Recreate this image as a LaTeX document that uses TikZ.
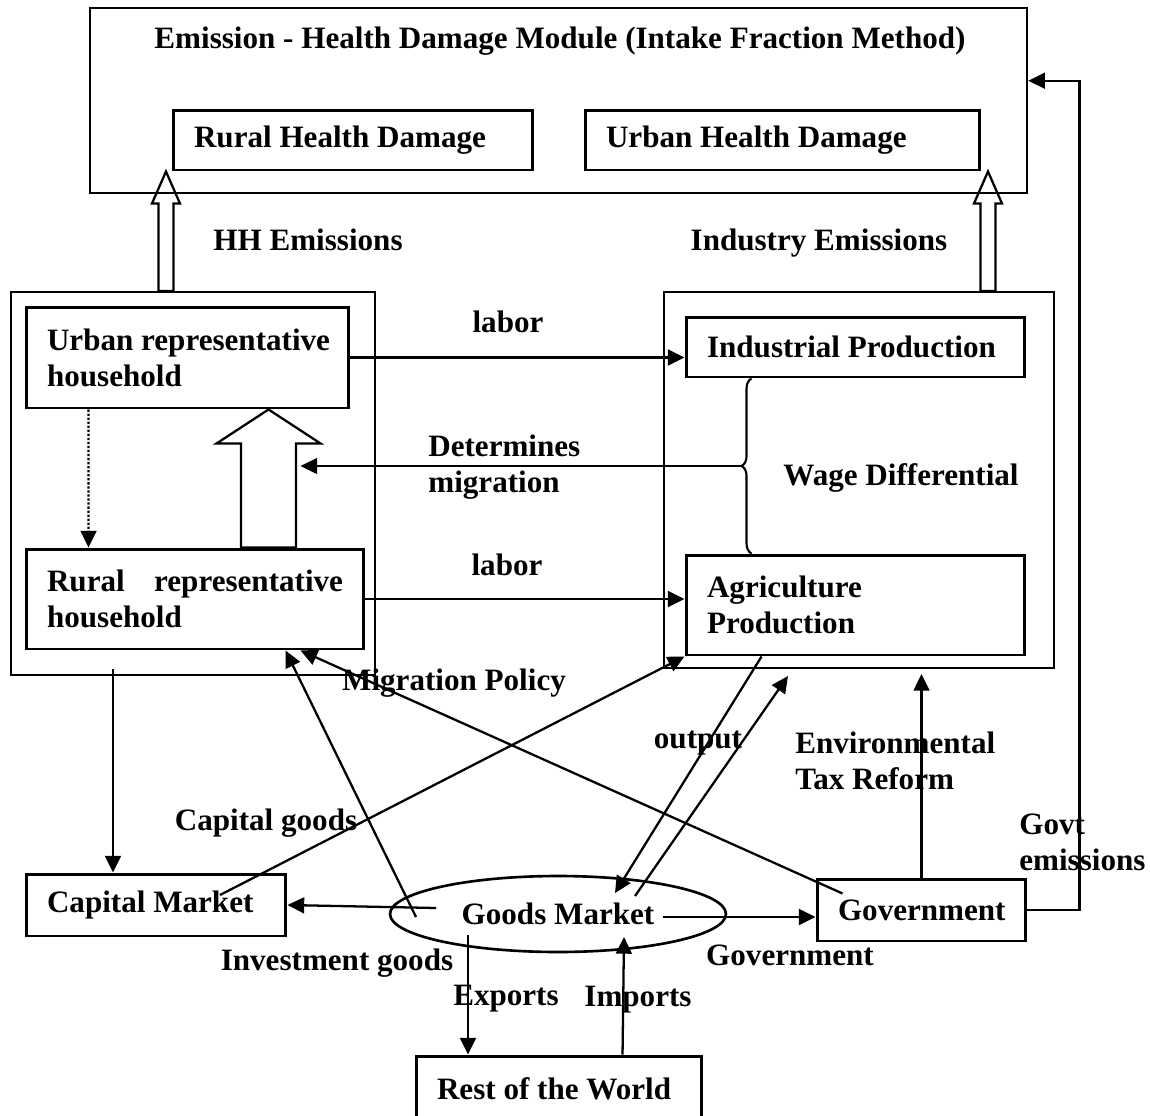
\documentclass[tikz,border=0pt]{standalone}
\usepackage{fontspec}
\setmainfont{Liberation Serif}
\usetikzlibrary{arrows.meta,shapes.geometric,calc,decorations.pathreplacing}

\newcommand{\hollowup}[5]{\draw[hollow] ($(#1)+(-#3,0)$) -- ($(#2)+(-#3,#5)$) -- ($(#2)+(-#4,#5)$) -- (#2) -- ($(#2)+(#4,#5)$) -- ($(#2)+(#3,#5)$) -- ($(#1)+(#3,0)$) -- cycle;}

\begin{document}
\begin{tikzpicture}[x=0.02cm,y=-0.02cm,
	every node/.style={font=\bfseries\fontsize{17.7}{20.5}\selectfont},
	box/.style={draw,line width=1.7pt,inner xsep=0.42cm,inner ysep=0pt,align=flush left},
	group/.style={draw,line width=1.2pt,inner sep=0pt},
	arr/.style={line width=1.3pt,-{Triangle[length=9.5pt,width=9pt]}},
	hollow/.style={line width=1.3pt,line join=miter},
	lbl/.style={inner sep=0pt}]
		\useasboundingbox (0,0) rectangle (1150,1116);
		
		\node[group,line width=1.5pt,minimum width=18.74cm,minimum height=3.7cm] (module) at (558.5,100.5) {};
		\node[lbl] (title) at (560,41) {Emission - Health Damage Module (Intake Fraction Method)};
		\node[box,text width=6.36cm,minimum height=1.2cm] (rhd) at (353,140) {Rural Health Damage};
		\node[box,text width=7.06cm,minimum height=1.2cm] (uhd) at (782.5,140) {Urban Health Damage};
		
		\node[group,minimum width=7.28cm,minimum height=7.66cm] (lgroup) at (193,483.5) {};
		\node[box,text width=5.62cm,minimum height=2.02cm] (urban) at (187.5,357.5) {\mbox{Urban representative}\\household};
		\node[box,text width=5.92cm,minimum height=2cm] (rural) at (195,599) {Rural\hfill representative\\household};
		
		\node[group,minimum width=7.8cm,minimum height=7.52cm] (rgroup) at (859,480) {};
		\node[box,text width=5.94cm,minimum height=1.2cm] (indus) at (855.5,347) {Industrial Production};
		\node[box,text width=5.94cm,minimum height=2cm] (agri) at (855.5,605) {Agriculture\\Production};
		
		\node[box,text width=4.36cm,minimum height=1.24cm] (capm) at (156,905) {Capital Market};
		\node[draw,ellipse,line width=1.5pt,minimum width=6.72cm,minimum height=1.52cm,inner sep=0pt] (goods) at (558,914) {Goods Market};
		\node[box,align=flush center,text width=3.34cm,minimum height=1.24cm] (gov) at (921.5,910) {Government};
		\node[box,text width=4.88cm,minimum height=1.32cm] (row) at (559,1089) {Rest of the World};
		
		\coordinate (hhtail) at ($(lgroup.north west)+(156,0)$);
		\coordinate (hhtip) at (hhtail |- rhd.south);
		\hollowup{hhtail}{hhtip}{7.5}{14}{32}
		\coordinate (intail) at ($(rgroup.north west)+(325,0)$);
		\coordinate (intip) at (intail |- uhd.south);
		\hollowup{intail}{intip}{7.5}{14}{32}
		\coordinate (migtail) at ($(rural.north west)+(244,0)$);
		\coordinate (migtip) at (migtail |- urban.south);
		\hollowup{migtail}{migtip}{27.5}{52}{34}
		
		\coordinate (bracebot) at ($(agri.north west)+(67,0)$);
		\coordinate (bracetop) at ($(indus.south west)+(67,0)$);
		\draw[line width=1.2pt,decorate,decoration={brace,amplitude=0.2cm}] (bracebot) -- (bracetop);
		\coordinate (bracetip) at ($(bracebot)!0.5!(bracetop)+(-10,0)$);
		\draw[arr] (bracetip) -- ($(bracetip -| migtail)+(32,0)$);
		
		\draw[arr] (urban.east) -- (urban.east -| indus.west);
		\draw[arr] (rural.east) -- (rural.east -| agri.west);
		\draw[arr,densely dotted] ($(urban.south west)+(64,0)$) -- ($(rural.north west)+(64,0)$);
		\draw[arr] ($(lgroup.south west)+(103,-7)$) coordinate (c1) -- (c1 |- capm.north);
		\draw[arr] ($(goods.center)+(-122,-6)$) -- (capm.east);
		\draw[arr] ($(goods.center)+(105,3)$) coordinate (g1) -- (g1 -| gov.west);
		\draw[arr] ($(goods.center)+(-90,21)$) coordinate (ex) -- (ex |- row.north);
		\draw[arr] ($(row.north west)+(208,0)$) -- ($(goods.center)+(66,23)$);
		\draw[arr] ($(capm.center)+(64,-10)$) -- (agri.south west);
		\draw[arr] ($(goods.center)+(-142,3)$) -- ($(rural.south west)+(261,0)$);
		\draw[arr] ($(gov.north west)+(27,16)$) -- ($(rural.south west)+(276,0)$);
		\draw[arr] ($(agri.south west)+(77,0)$) -- ($(goods.center)+(57,-21)$);
		\draw[arr] ($(goods.center)+(77,-18)$) -- ($(rgroup.south west)+(125,7)$);
		\draw[arr] (gov.north) -- ($(gov.north |- rgroup.south)+(0,5)$);
		\draw[arr] (gov.east) -- ++(52,0) |- ($(module.north east)+(0,74)$);
		
		\node[lbl] (hhlbl) at (308,240) {HH Emissions};
		\node[lbl] (inlbl) at (819,243) {Industry Emissions};
		\node[lbl] (labor1) at (508,322) {labor};
		\node[lbl] (labor2) at (507,565) {labor};
		\node[lbl,anchor=west,align=flush left] (detlbl) at (428,467) {Determines\\migration};
		\node[lbl] (wagelbl) at (901,478) {Wage Differential};
		\node[lbl] (miglbl) at (454,683) {Migration Policy};
		\node[lbl] (caplbl) at (266,823) {Capital goods};
		\node[lbl] (outlbl) at (698,743) {output};
		\node[lbl,anchor=west,align=flush left] (envlbl) at (795,761) {Environmental\\Tax Reform};
		\node[lbl,anchor=west,align=flush left] (govtlbl) at (1019,842) {Govt\\emissions};
		\node[lbl] (invlbl) at (337,963) {Investment goods};
		\node[lbl] (govlbl) at (790,955) {Government};
		\node[lbl] (exlbl) at (506,999) {Exports};
		\node[lbl] (imlbl) at (638,1000) {Imports};
\end{tikzpicture}
\end{document}
